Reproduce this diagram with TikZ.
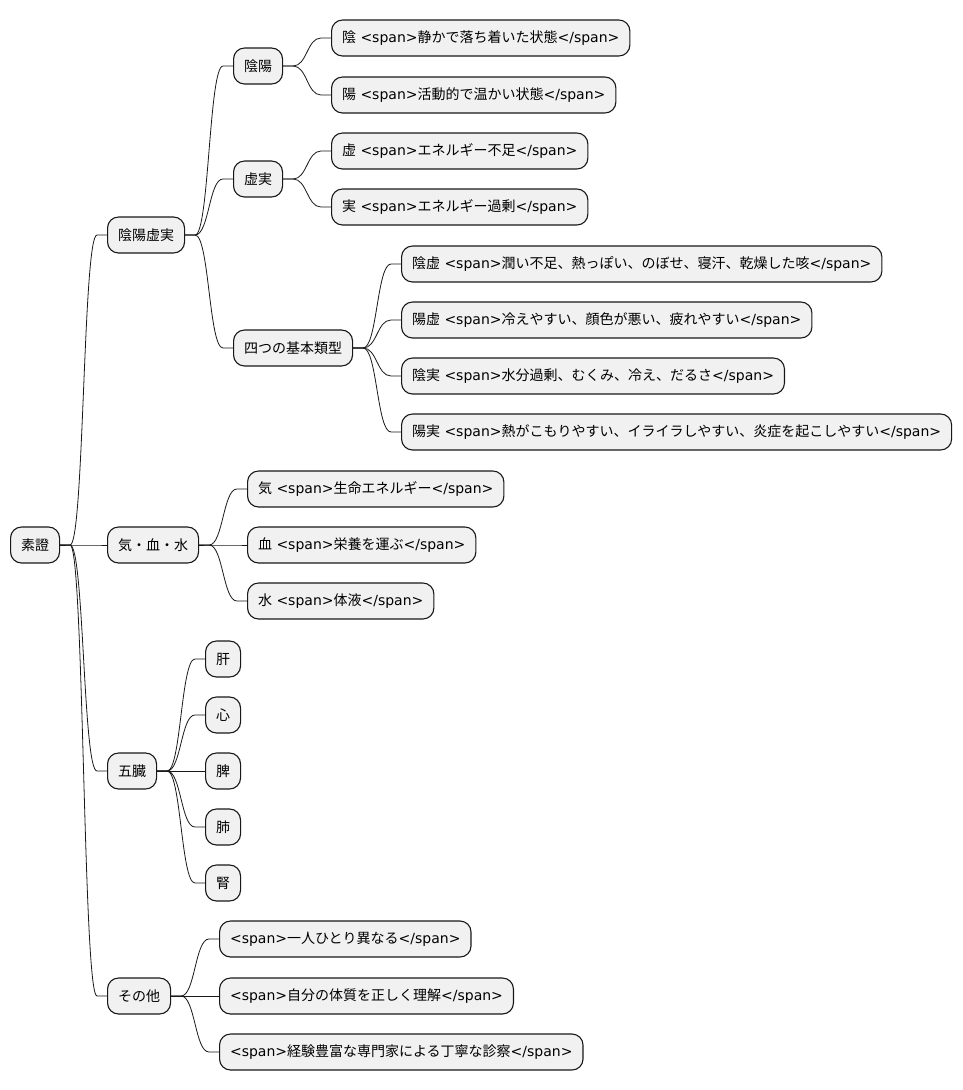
\documentclass[tikz,border=0pt]{standalone}
\usepackage{fontspec}
\setmainfont{DejaVu Sans}
\newfontfamily\jp{Noto Sans CJK JP}
\newcommand\spn[1]{<span>{\jp #1}</span>}
\definecolor{line}{HTML}{181818}
\definecolor{box}{HTML}{F1F1F1}

\begin{document}
\begin{tikzpicture}[x=1pt,y=-1pt,
                    idea/.style={draw=line,fill=box,line width=1.1pt,
                                 rounded corners=11pt,anchor=west,
                                 minimum height=36pt,inner xsep=10.5pt,
                                 font=\fontsize{14}{16}\selectfont},
                    link/.style={draw=line,line width=0.8pt}]
  \useasboundingbox (0,0) rectangle (962,1090);
  % root and first level
  \node[idea] (root) at (10,545) {\jp 素證};
  \node[idea] (yyxj) at (107,235) {\jp 陰陽虚実};
  \node[idea] (kks) at (107,545) {{\jp 気・血・水}};
  \node[idea] (gozo) at (107,771) {\jp 五臓};
  \node[idea] (other) at (107,996) {\jp その他};
  % second level under 陰陽虚実
  \node[idea] (yinyang) at (233,66) {\jp 陰陽};
  \node[idea] (xushi) at (233,179) {\jp 虚実};
  \node[idea] (types) at (233,348) {\jp 四つの基本類型};
  % leaves
  \node[idea] (yin) at (331,38) {{\jp 陰} \spn{静かで落ち着いた状態}};
  \node[idea] (yang) at (331,95) {{\jp 陽} \spn{活動的で温かい状態}};
  \node[idea] (kyo) at (331,151) {{\jp 虚} \spn{エネルギー不足}};
  \node[idea] (jitsu) at (331,207) {{\jp 実} \spn{エネルギー過剰}};
  \node[idea] (inkyo) at (401,264) {{\jp 陰虚} \spn{潤い不足、熱っぽい、のぼせ、寝汗、乾燥した咳}};
  \node[idea] (yokyo) at (401,320) {{\jp 陽虚} \spn{冷えやすい、顔色が悪い、疲れやすい}};
  \node[idea] (injitsu) at (401,376) {{\jp 陰実} \spn{水分過剰、むくみ、冷え、だるさ}};
  \node[idea] (yojitsu) at (401,432) {{\jp 陽実} \spn{熱がこもりやすい、イライラしやすい、炎症を起こしやすい}};
  \node[idea] (ki) at (247,489) {{\jp 気} \spn{生命エネルギー}};
  \node[idea] (ketsu) at (247,545) {{\jp 血} \spn{栄養を運ぶ}};
  \node[idea] (sui) at (247,601) {{\jp 水} \spn{体液}};
  \node[idea] (kan) at (205,659) {\jp 肝};
  \node[idea] (shin) at (205,715) {\jp 心};
  \node[idea] (hi) at (205,771) {\jp 脾};
  \node[idea] (hai) at (205,827) {\jp 肺};
  \node[idea] (jin) at (205,883) {\jp 腎};
  \node[idea] (indiv) at (219,939) {\spn{一人ひとり異なる}};
  \node[idea] (know) at (219,996) {\spn{自分の体質を正しく理解}};
  \node[idea] (diag) at (219,1052) {\spn{経験豊富な専門家による丁寧な診察}};
  % connectors
  \foreach \p/\c in {root/yyxj,root/kks,root/gozo,root/other,
                     yyxj/yinyang,yyxj/xushi,yyxj/types,
                     yinyang/yin,yinyang/yang,xushi/kyo,xushi/jitsu,
                     types/inkyo,types/yokyo,types/injitsu,types/yojitsu,
                     kks/ki,kks/ketsu,kks/sui,
                     gozo/kan,gozo/shin,gozo/hi,gozo/hai,gozo/jin,
                     other/indiv,other/know,other/diag}
    \draw[link] (\p.east) -- ++(10,0)
      .. controls +(14,0) and +(-14,0) .. ([xshift=-10pt]\c.west) -- (\c.west);
\end{tikzpicture}
\end{document}
